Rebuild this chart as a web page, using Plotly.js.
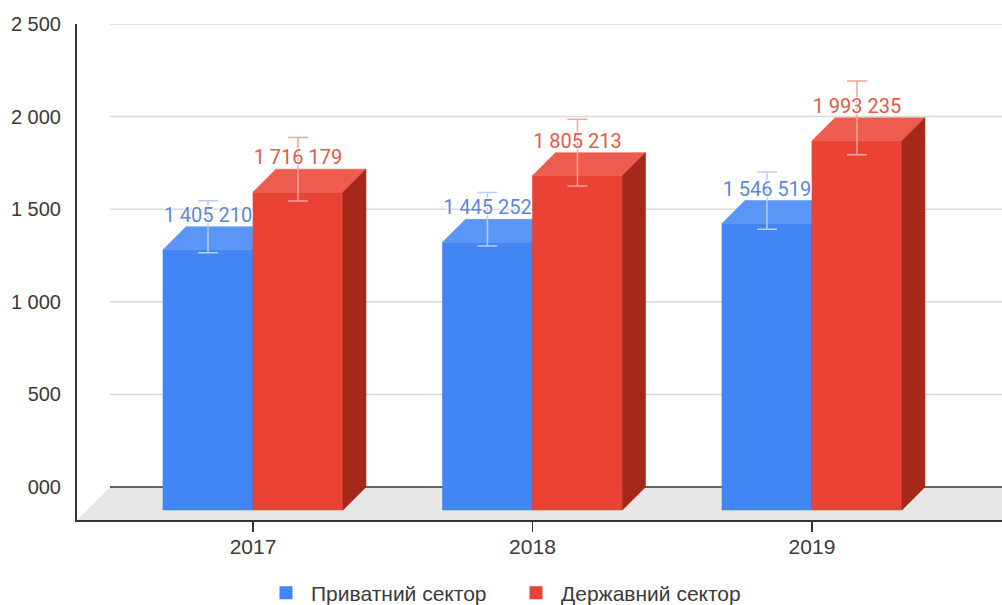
<!DOCTYPE html>
<html>
<head>
<meta charset="utf-8">
<script src="https://cdn.plot.ly/plotly-3.0.1.min.js"></script>
<style>html,body{margin:0;padding:0;background:#fff;}#chart{width:1002px;height:605px;}</style>
</head>
<body>
<div id="chart"></div>
<script>
// ---- data ----
const categories = ['2017', '2018', '2019'];
const privateValues = [1405210, 1445252, 1546519];
const stateValues = [1716179, 1805213, 1993235];
const seriesNames = ['Приватний сектор', 'Державний сектор'];
const tickValues = [0, 500, 1000, 1500, 2000, 2500];
const tickLabels = ['000', '500', '1 000', '1 500', '2 000', '2 500'];
const errorPercent = 10;

// ---- style / geometry ----
const barW = 0.322;      // bar width in category units
const dX = 0.0823;       // depth offset (x, category units)
const dY = 124;          // depth offset (y, axis units)
const floorDY = 178.2;   // floor depth (axis units)
const xMin = -0.6297, xMax = 2.68;
const yMin = -floorDY, yMax = 2500;
const floorBackLeft = xMin + 0.118;

const colors = {
  blue:  {front: '#4285f4', top: '#5b95f5', side: '#2d62c0', label: '#5c87dc', err: '#bccdee'},
  red:   {front: '#ea4335', top: '#ee5c4f', side: '#a6281b', label: '#e35a4d', err: '#f3a49d'}
};

function fmt(v) {
  return String(v).replace(/\B(?=(\d{3})+(?!\d))/g, ' ');
}

function faceTraces(vals, side, c) {
  const f = {x: [], y: []}, t = {x: [], y: []}, r = {x: [], y: []};
  function add(o, pts) {
    pts.forEach(p => { o.x.push(p[0]); o.y.push(p[1]); });
    o.x.push(null); o.y.push(null);
  }
  vals.forEach((v, i) => {
    const h = v / 1000;
    const x0 = side < 0 ? i - barW : i;
    const x1 = x0 + barW;
    const yb = -dY, yt = h - dY;
    add(f, [[x0, yb], [x1, yb], [x1, yt], [x0, yt], [x0, yb]]);
    add(t, [[x0, yt], [x1, yt], [x1 + dX, h], [x0 + dX, h], [x0, yt]]);
    add(r, [[x1, yb], [x1 + dX, yb + dY], [x1 + dX, h], [x1, yt], [x1, yb]]);
  });
  const mk = (o, col) => ({
    type: 'scatter', mode: 'lines', x: o.x, y: o.y, fill: 'toself',
    fillcolor: col, line: {color: col, width: 0.6}, hoverinfo: 'skip', showlegend: false
  });
  return [mk(f, c.front), mk(t, c.top), mk(r, c.side)];
}

function centers(side) {
  return categories.map((_, i) => i + side * barW / 2);
}

const traces = [];
traces.push(...faceTraces(privateValues, -1, colors.blue));
traces.push(...faceTraces(stateValues, 1, colors.red));

[[privateValues, -1, colors.blue], [stateValues, 1, colors.red]].forEach(([vals, side, c]) => {
  traces.push({
    type: 'scatter', mode: 'markers', x: centers(side), y: vals.map(v => v / 1000),
    marker: {size: 1, color: 'rgba(0,0,0,0)'},
    error_y: {type: 'percent', value: errorPercent, color: c.err, thickness: 1.5, width: 10},
    hoverinfo: 'skip', showlegend: false
  });
});
[[privateValues, -1, colors.blue], [stateValues, 1, colors.red]].forEach(([vals, side, c]) => {
  traces.push({
    type: 'scatter', mode: 'text', x: centers(side), y: vals.map(v => v / 1000),
    text: vals.map(fmt), textposition: 'top center',
    textfont: {family: 'Roboto, Arial, sans-serif', size: 20, color: c.label,
      shadow: '1px 1px 1px #fff, -1px -1px 1px #fff, 1px -1px 1px #fff, -1px 1px 1px #fff'},
    hoverinfo: 'skip', showlegend: false, cliponaxis: false
  });
});
// legend entries
[[seriesNames[0], colors.blue.front], [seriesNames[1], colors.red.front]].forEach(([n, col]) => {
  traces.push({
    type: 'scatter', mode: 'markers', x: [null], y: [null], name: n,
    marker: {symbol: 'square', size: 13, color: col}, hoverinfo: 'skip'
  });
});

// decorations: floor and back-wall gridlines
const shapes = [{
  type: 'path', xref: 'x', yref: 'y', layer: 'below',
  path: `M${xMin},${yMin} L${floorBackLeft},0 L${xMax + 1},0 L${xMax + 1},${yMin} Z`,
  fillcolor: '#e7e7e7', line: {width: 0}
}];
tickValues.forEach(v => {
  shapes.push({
    type: 'line', xref: 'x', yref: 'y', layer: 'below',
    x0: floorBackLeft, x1: xMax + 1, y0: v, y1: v,
    line: {color: v === 0 ? '#333333' : '#d9d9d9', width: v === 0 ? 1.6 : 1.5}
  });
});

const layout = {
  width: 1002, height: 605,
  margin: {l: 77, r: 0, t: 24, b: 85},
  paper_bgcolor: '#ffffff', plot_bgcolor: '#ffffff',
  font: {family: '"Liberation Sans", Arial, sans-serif', size: 20, color: '#3a3a3a'},
  showlegend: true,
  legend: {
    orientation: 'h', xref: 'container', yref: 'container',
    x: 0.51, xanchor: 'center', y: 1 - 593 / 605, yanchor: 'middle',
    font: {size: 21, color: '#3a3a3a'}, itemwidth: 40, entrywidth: 195,
    bgcolor: 'rgba(0,0,0,0)'
  },
  xaxis: {
    range: [xMin, xMax], tickvals: categories.map((_, i) => i), ticktext: categories,
    showgrid: false, zeroline: false, showline: true, linecolor: '#333333', linewidth: 2,
    ticks: 'outside', ticklen: 10, tickwidth: 1.5, tickcolor: '#333333', fixedrange: true,
    tickfont: {size: 21}, ticklabelstandoff: -3
  },
  yaxis: {
    range: [yMin, yMax], tickvals: tickValues, ticktext: tickLabels,
    showgrid: false, zeroline: false, showline: true, linecolor: '#333333', linewidth: 2,
    ticks: '', ticklabelstandoff: 10, fixedrange: true
  },
  shapes: shapes,
  hovermode: false
};

Plotly.newPlot('chart', traces, layout, {displayModeBar: false, staticPlot: true});
</script>
</body>
</html>
